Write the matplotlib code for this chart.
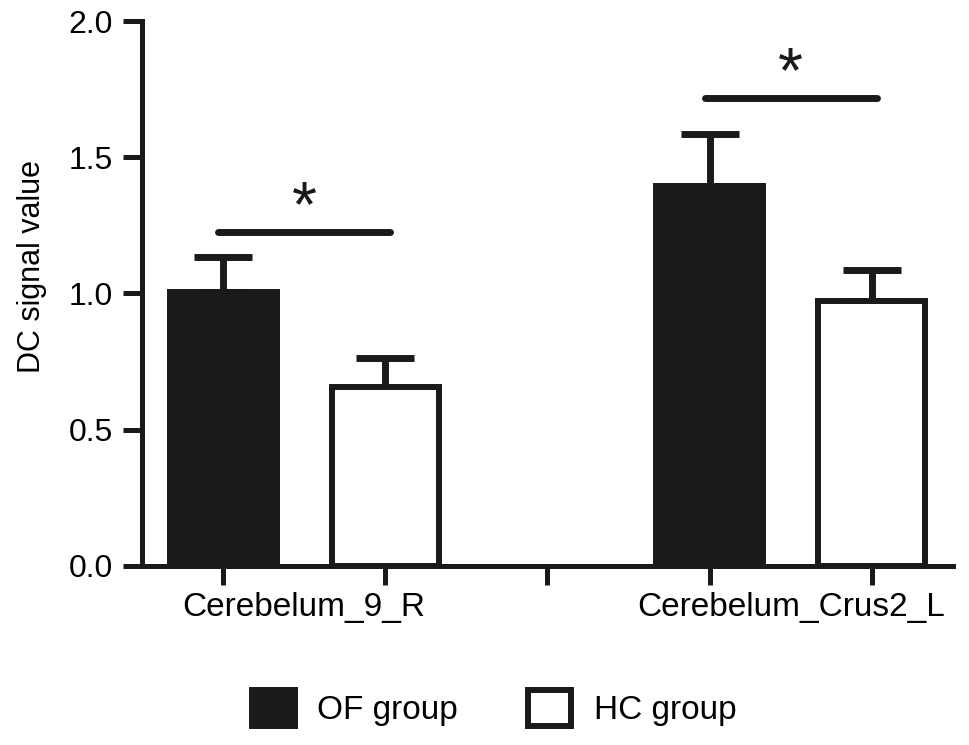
import matplotlib
matplotlib.use('Agg')
import matplotlib.pyplot as plt
import numpy as np
from matplotlib.patches import Patch

plt.rcParams['font.family'] = ['Liberation Sans', 'DejaVu Sans']

regions = ['Cerebelum_9_R', 'Cerebelum_Crus2_L']
groups = ['OF group', 'HC group']
of_mean = [1.005, 1.395]
of_err = [0.13, 0.19]
hc_mean = [0.658, 0.973]
hc_err = [0.105, 0.113]
sig_y = [1.226, 1.717]
sig_marks = ['*', '*']
y_ticks = [0.0, 0.5, 1.0, 1.5, 2.0]

ink = '#1a1a1a'
bar_w = 0.66
edge_lw = 4.3
err_lw = 5.0

# bars sit at 0,1 and 3,4 with an empty slot at 2 (Prism style)
of_pos = np.array([0, 3])
hc_pos = of_pos + 1

fig = plt.figure(figsize=(9.69, 7.45), dpi=100)
ax = fig.add_axes([0.1465, 0.2403, 0.8370, 0.7315])

ax.bar(of_pos, of_mean, width=bar_w, color=ink, edgecolor=ink, linewidth=edge_lw, zorder=2)
ax.bar(hc_pos, hc_mean, width=bar_w, color='white', edgecolor=ink, linewidth=edge_lw, zorder=2)

for pos, mean, err in [(of_pos, of_mean, of_err), (hc_pos, hc_mean, hc_err)]:
    ax.errorbar(pos, mean, yerr=[np.zeros(len(err)), err], fmt='none', ecolor=ink,
                elinewidth=err_lw, capsize=21, capthick=err_lw, zorder=1)

for i in range(len(regions)):
    ax.plot([of_pos[i] - 0.03, hc_pos[i] + 0.03], [sig_y[i], sig_y[i]], color=ink, lw=5,
            solid_capstyle='round', clip_on=False)
    ax.text((of_pos[i] + hc_pos[i]) / 2, sig_y[i] + 0.085, sig_marks[i], ha='center', va='center',
            fontsize=46, color=ink)

ax.set_xlim(-0.5, 4.5)
ax.set_ylim(0, 2.0)
ax.set_yticks(y_ticks)
ax.set_yticklabels(['%.1f' % t for t in y_ticks], fontsize=23)
ax.set_xticks(np.arange(5))
ax.set_xticklabels([])
ax.set_xticks((of_pos + hc_pos) / 2, minor=True)
ax.set_xticklabels(regions, minor=True, fontsize=24)
ax.tick_params(axis='both', which='major', length=14, width=3.6, color=ink, pad=7)
ax.tick_params(axis='x', which='minor', length=0, pad=19)

for side in ['top', 'right']:
    ax.spines[side].set_visible(False)
for side in ['left', 'bottom']:
    ax.spines[side].set_linewidth(3.6)
    ax.spines[side].set_color(ink)

ax.set_ylabel('DC signal value', fontsize=22)
ax.yaxis.set_label_coords(-0.117, 0.55)

handles = [Patch(facecolor=ink, edgecolor=ink, linewidth=edge_lw),
           Patch(facecolor='white', edgecolor=ink, linewidth=edge_lw)]
fig.legend(handles, groups, loc='center', bbox_to_anchor=(494 / 969, 1 - 708 / 745), ncol=2,
           frameon=False, fontsize=24, handlelength=1.3, handleheight=1.3,
           handletextpad=0.67, columnspacing=2.1)

fig.savefig('out.png', dpi=100)
